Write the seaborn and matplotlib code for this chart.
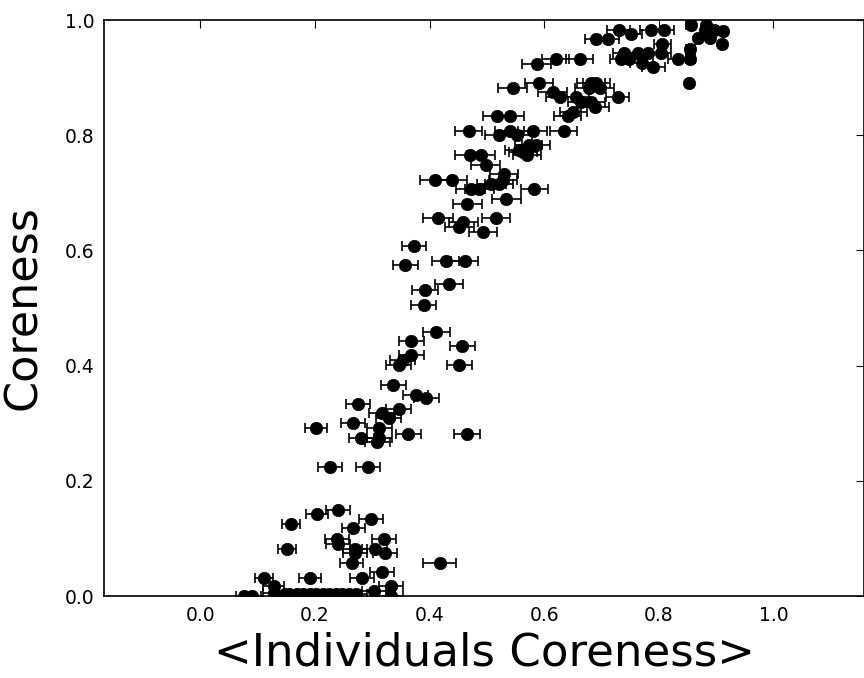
import matplotlib
matplotlib.use("Agg")
import matplotlib.pyplot as plt
import seaborn as sns
import pandas as pd

# Mean coreness of the individuals (x), its spread (xerr) and the coreness (y)
mean_ind_coreness = [
    0.856, 0.883, 0.880, 0.897, 0.912, 0.869, 0.889, 0.910, 0.855, 0.855, 0.853,
    0.730, 0.786, 0.809, 0.751, 0.711, 0.691, 0.806, 0.740, 0.763, 0.781, 0.804,
    0.734, 0.748, 0.834, 0.770, 0.790, 0.587, 0.620, 0.662, 0.591, 0.545, 0.682,
    0.691, 0.678, 0.697, 0.728, 0.615, 0.628, 0.655, 0.665, 0.682, 0.689, 0.651,
    0.641, 0.518, 0.540, 0.468, 0.522, 0.540, 0.553, 0.580, 0.634, 0.586, 0.573,
    0.556, 0.570, 0.563, 0.470, 0.490, 0.498, 0.530, 0.528, 0.410, 0.439, 0.508,
    0.521, 0.472, 0.487, 0.583, 0.534, 0.466, 0.415, 0.516, 0.459, 0.452, 0.493,
    0.373, 0.358, 0.428, 0.461, 0.434, 0.392, 0.390,
    0.412, 0.368, 0.457, 0.368, 0.353, 0.346, 0.452, 0.337, 0.376, 0.394, 0.275,
    0.346, 0.317, 0.329, 0.266, 0.202, 0.312, 0.363, 0.465, 0.281, 0.312, 0.309,
    0.227, 0.293,
    0.240, 0.203, 0.298, 0.158, 0.267, 0.320, 0.238, 0.241, 0.151, 0.270, 0.304,
    0.322, 0.270, 0.418, 0.264, 0.317, 0.111, 0.192, 0.282, 0.128, 0.333, 0.303,
    0.076, 0.090, 0.128, 0.148, 0.168, 0.179, 0.191, 0.202, 0.214, 0.225, 0.237,
    0.248, 0.260, 0.271, 0.332, 0.155,
]
mean_ind_err = [
    0.008, 0.006, 0.006, 0.006, 0.006, 0.006, 0.006, 0.005, 0.008, 0.008, 0.003,
    0.020, 0.018, 0.018, 0.020, 0.020, 0.020, 0.015, 0.020, 0.020, 0.018, 0.018,
    0.020, 0.020, 0.018, 0.020, 0.020, 0.025, 0.024, 0.024, 0.024, 0.025, 0.024,
    0.024, 0.024, 0.024, 0.020, 0.025, 0.024, 0.024, 0.024, 0.024, 0.024, 0.024,
    0.024, 0.025, 0.025, 0.024, 0.025, 0.025, 0.025, 0.025, 0.024, 0.024, 0.024,
    0.024, 0.024, 0.024, 0.025, 0.025, 0.025, 0.025, 0.025, 0.026, 0.026, 0.025,
    0.025, 0.025, 0.025, 0.024, 0.025, 0.025, 0.026, 0.025, 0.025, 0.025, 0.025,
    0.021, 0.022, 0.024, 0.024, 0.024, 0.022, 0.022,
    0.024, 0.022, 0.022, 0.022, 0.022, 0.022, 0.022, 0.022, 0.022, 0.022, 0.021,
    0.022, 0.022, 0.022, 0.021, 0.019, 0.022, 0.022, 0.023, 0.022, 0.022, 0.022,
    0.021, 0.021,
    0.021, 0.019, 0.021, 0.016, 0.020, 0.021, 0.021, 0.021, 0.016, 0.021, 0.021,
    0.021, 0.021, 0.029, 0.020, 0.021, 0.016, 0.019, 0.021, 0.018, 0.021, 0.021,
    0.014, 0.016, 0.018, 0.018, 0.019, 0.019, 0.019, 0.020, 0.020, 0.020, 0.020,
    0.020, 0.020, 0.020, 0.021, 0.018,
]
coreness = [
    0.991, 0.991, 0.983, 0.983, 0.981, 0.968, 0.968, 0.958, 0.950, 0.933, 0.891,
    0.983, 0.983, 0.983, 0.975, 0.967, 0.967, 0.958, 0.942, 0.942, 0.942, 0.942,
    0.933, 0.933, 0.933, 0.925, 0.918, 0.923, 0.933, 0.933, 0.890, 0.882, 0.890,
    0.890, 0.882, 0.882, 0.866, 0.875, 0.866, 0.866, 0.858, 0.857, 0.849, 0.840,
    0.833, 0.833, 0.833, 0.808, 0.800, 0.808, 0.800, 0.808, 0.808, 0.783, 0.783,
    0.774, 0.766, 0.770, 0.766, 0.766, 0.748, 0.733, 0.723, 0.723, 0.723, 0.716,
    0.716, 0.707, 0.707, 0.707, 0.690, 0.681, 0.657, 0.657, 0.649, 0.641, 0.632,
    0.607, 0.574, 0.581, 0.581, 0.541, 0.532, 0.506,
    0.458, 0.442, 0.434, 0.419, 0.410, 0.401, 0.401, 0.367, 0.349, 0.343, 0.333,
    0.325, 0.318, 0.309, 0.300, 0.292, 0.292, 0.282, 0.282, 0.275, 0.275, 0.267,
    0.224, 0.224,
    0.150, 0.142, 0.133, 0.125, 0.118, 0.099, 0.099, 0.091, 0.082, 0.082, 0.081,
    0.075, 0.074, 0.058, 0.058, 0.042, 0.032, 0.032, 0.032, 0.017, 0.017, 0.008,
    0.000, 0.000, 0.005, 0.003, 0.003, 0.003, 0.003, 0.003, 0.003, 0.003, 0.003,
    0.003, 0.003, 0.003, 0.000, 0.003,
]

x_ticks = [0.0, 0.2, 0.4, 0.6, 0.8, 1.0]
y_ticks = [0.0, 0.2, 0.4, 0.6, 0.8, 1.0]

df = pd.DataFrame({"x": mean_ind_coreness, "xerr": mean_ind_err, "y": coreness})

sns.set_style("white")
plt.rcParams["font.family"] = ["DejaVu Sans"]
plt.rcParams["text.color"] = "black"
plt.rcParams["axes.labelcolor"] = "black"
plt.rcParams["xtick.color"] = "black"
plt.rcParams["ytick.color"] = "black"
plt.rcParams["xtick.direction"] = "in"
plt.rcParams["ytick.direction"] = "in"

fig = plt.figure(figsize=(8.64, 6.78), dpi=100)
ax = fig.add_axes([104 / 864, 1 - 596 / 678, 760 / 864, 576 / 678])

ax.errorbar(df["x"], df["y"], xerr=df["xerr"], fmt="none", ecolor="black",
            elinewidth=1.2, capsize=3.5, capthick=1.2, zorder=2)
sns.scatterplot(data=df, x="x", y="y", ax=ax, color="black", s=80,
                edgecolor="black", linewidth=0.5, zorder=3, legend=False)

ax.set_xlim(-0.168, 1.158)
ax.set_ylim(0.0, 1.0)
ax.set_xticks(x_ticks)
ax.set_yticks(y_ticks)
ax.set_xticklabels([f"{t:.1f}" for t in x_ticks])
ax.set_yticklabels([f"{t:.1f}" for t in y_ticks])
ax.tick_params(axis="both", which="major", direction="in", length=6, width=0.8,
               labelsize=13.5, pad=7, top=True, right=True,
               color="black", labelcolor="black")

for side in ["left", "right", "top", "bottom"]:
    ax.spines[side].set_visible(True)
    ax.spines[side].set_color("black")
    ax.spines[side].set_linewidth(1.2)

ax.set_xlabel("<Individuals Coreness>", fontsize=32.5, labelpad=5, color="black")
ax.set_ylabel("Coreness", fontsize=32, labelpad=14, color="black")

fig.savefig("out.png", dpi=100, facecolor="white")
